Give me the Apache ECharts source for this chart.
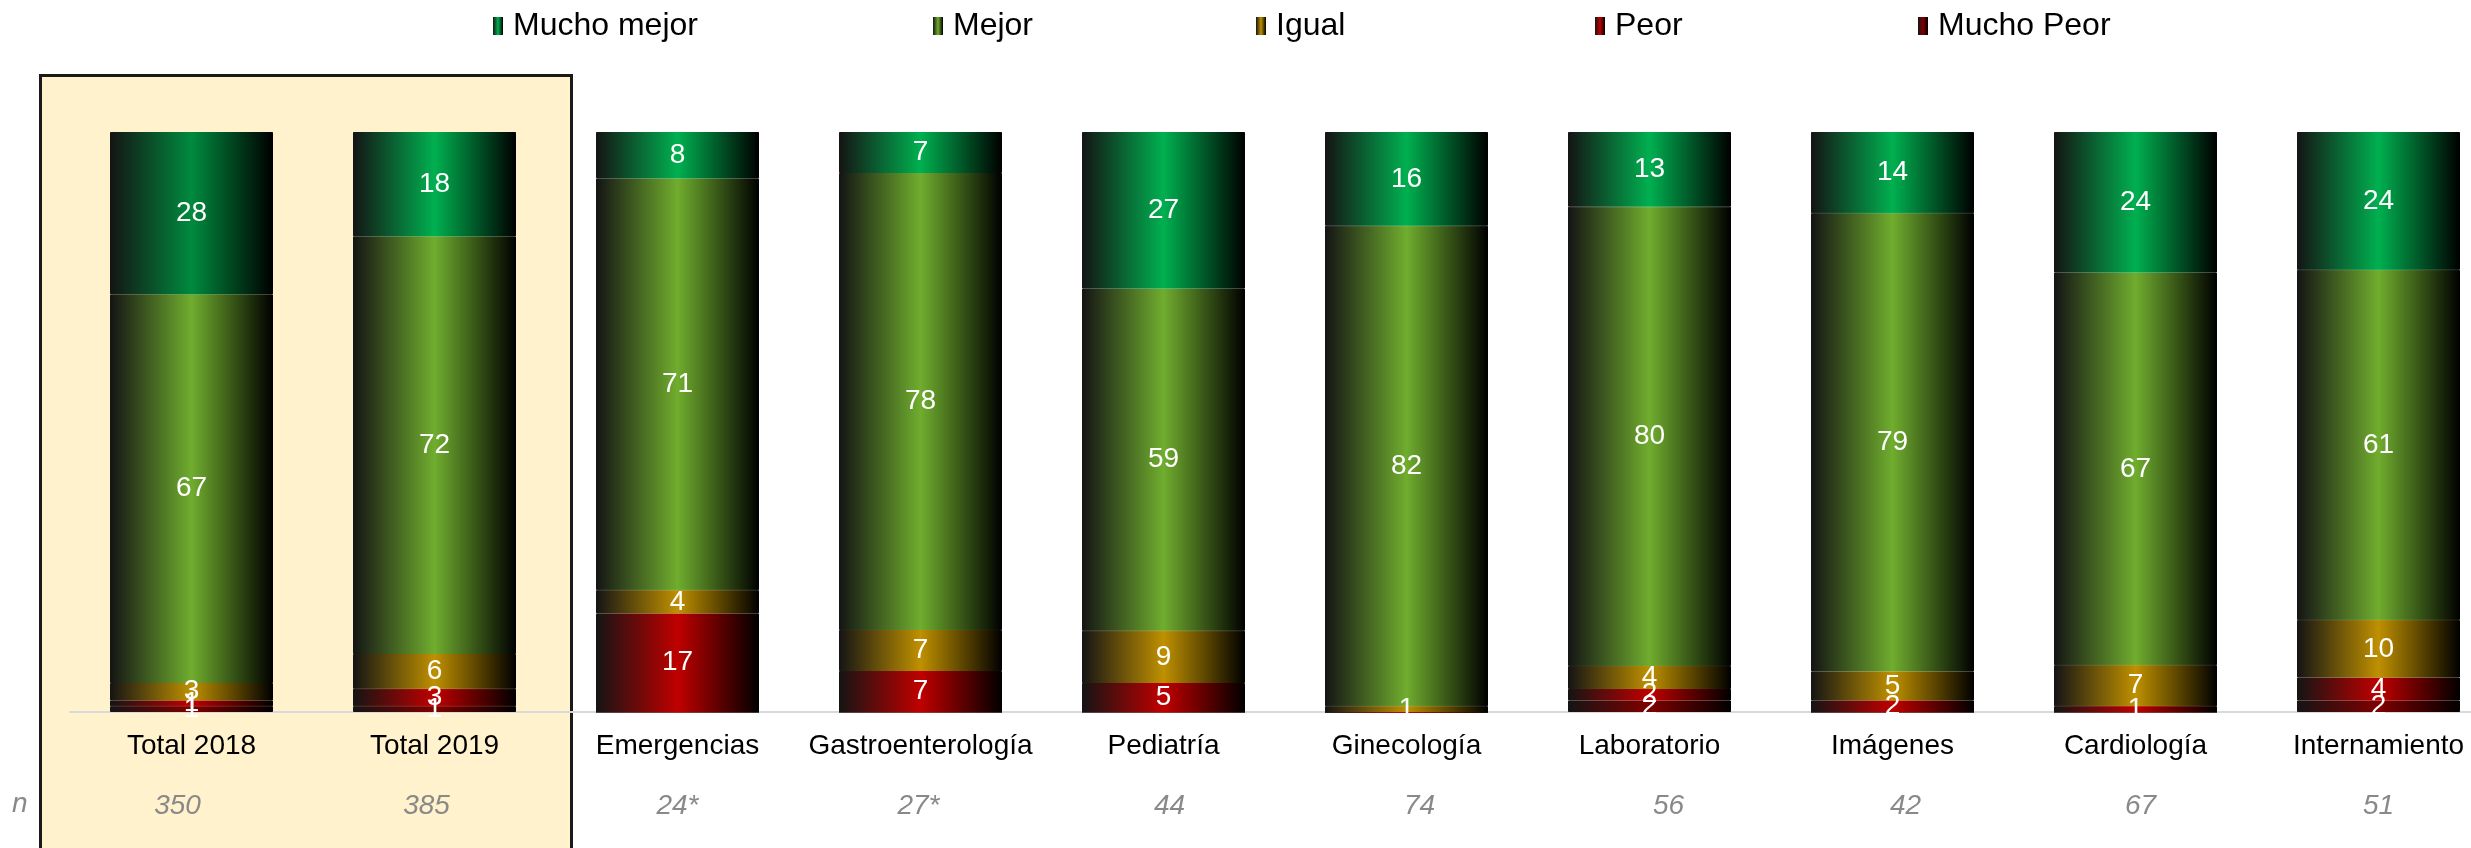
<!DOCTYPE html>
<html>
<head>
<meta charset="utf-8">
<script src="https://cdn.jsdelivr.net/npm/echarts@6/dist/echarts.min.js"></script>
<style>
  html, body { margin: 0; padding: 0; background: #fff; }
  #chart { width: 2471px; height: 848px; }
</style>
</head>
<body>
<div id="chart"></div>
<script>
// datos (% por categoría)
var categories = ['Total 2018', 'Total 2019', 'Emergencias', 'Gastroenterología', 'Pediatría', 'Ginecología', 'Laboratorio', 'Imágenes', 'Cardiología', 'Internamiento'];
var nValues = ['350', '385', '24*', '27*', '44', '74', '56', '42', '67', '51'];
var muchoMejor = [28, 18, 8, 7, 27, 16, 13, 14, 24, 24];
var mejor = [67, 72, 71, 78, 59, 82, 80, 79, 67, 61];
var igual = [3, 6, 4, 7, 9, 1, 4, 5, 7, 10];
var peor = [1, 3, 17, 7, 5, 0, 2, 2, 1, 4];
var muchoPeor = [1, 1, 0, 0, 0, 0, 2, 0, 0, 2];

var legendNames = ['Mucho mejor', 'Mejor', 'Igual', 'Peor', 'Mucho Peor'];

// desplazamiento horizontal (px) de cada etiqueta n respecto al centro de la barra
var nShift = [-14, -8, 0, -2, 6, 13, 19, 13, 5, 0];

var FONT = '"Liberation Sans", Arial, sans-serif';

function grad(c) {
    return new echarts.graphic.LinearGradient(0, 0, 1, 0, [
        { offset: 0, color: '#141414' },
        { offset: 0.5, color: c },
        { offset: 1, color: '#000000' }
    ]);
}

// orden de apilado: de abajo hacia arriba
var stack = [
    { name: 'Mucho Peor', values: muchoPeor, color: '#800000' },
    { name: 'Peor', values: peor, color: '#C00000' },
    { name: 'Igual', values: igual, color: '#BF9000' },
    { name: 'Mejor', values: mejor, color: '#70AD2E' },
    { name: 'Mucho mejor', values: muchoMejor, color: '#00B050' }
];

// total por barra, para que todas lleguen al 100%
var totals = categories.map(function (c, i) {
    return stack.reduce(function (s, st) { return s + st.values[i]; }, 0);
});

var series = stack.map(function (st) {
    return {
        name: st.name,
        type: 'bar',
        stack: 'total',
        barWidth: 163,
        itemStyle: { color: grad(st.color), borderColor: grad(st.color), borderWidth: 1 },
        label: {
            show: true,
            position: 'inside',
            color: '#fff',
            fontSize: 28,
            fontFamily: FONT,
            formatter: function (p) {
                var v = st.values[p.dataIndex];
                return v === 0 ? '' : String(v);
            }
        },
        data: st.values.map(function (v, i) {
            var item = { value: v / totals[i] * 100 };
            if (st.name === 'Mucho mejor' && i === 0) {
                item.itemStyle = { color: grad('#008A3E'), borderColor: grad('#008A3E') };
            }
            return item;
        })
    };
});

var legendX = [493, 933, 1256, 1595, 1918];
var legends = legendNames.map(function (n, i) {
    return {
        data: [n],
        left: legendX[i],
        top: 10,
        padding: 0,
        itemWidth: 10,
        itemHeight: 18,
        itemGap: 0,
        selectedMode: false,
        icon: 'rect',
        itemStyle: { borderWidth: 0 },
        textStyle: { fontSize: 32, color: '#000', fontFamily: FONT, padding: [0, 0, 0, 5] }
    };
});

var rich = {
    a: { fontSize: 28, color: '#000', lineHeight: 60, fontFamily: FONT }
};
nShift.forEach(function (s, i) {
    rich['n' + i] = {
        fontSize: 28, color: '#898989', fontStyle: 'italic', lineHeight: 60, fontFamily: FONT,
        padding: s >= 0 ? [0, 0, 0, 2 * s] : [0, -2 * s, 0, 0]
    };
});

var myChart = echarts.init(document.getElementById('chart'));
myChart.setOption({
    animation: false,
    backgroundColor: '#fff',
    legend: legends,
    graphic: [
        {
            type: 'rect',
            left: 39,
            top: 74,
            z: -10,
            shape: { width: 531, height: 800 },
            style: { fill: '#FFF2CC', stroke: '#1a1a1a', lineWidth: 3 }
        },
        {
            type: 'text',
            left: 12,
            top: 790,
            style: { text: 'n', fill: '#898989', font: 'italic 28px ' + FONT }
        }
    ],
    grid: { left: 70, top: 132, bottom: 136, width: 2430, outerBoundsMode: 'none' },
    xAxis: {
        type: 'category',
        data: categories,
        axisTick: { show: false },
        axisLine: { lineStyle: { color: '#d9d9d9', width: 2 } },
        axisLabel: {
            interval: 0,
            margin: 4,
            formatter: function (v, i) {
                return '{a|' + v + '}\n{n' + i + '|' + nValues[i] + '}';
            },
            rich: rich
        }
    },
    yAxis: { type: 'value', min: 0, max: 100, show: false },
    series: series
});
</script>
</body>
</html>
